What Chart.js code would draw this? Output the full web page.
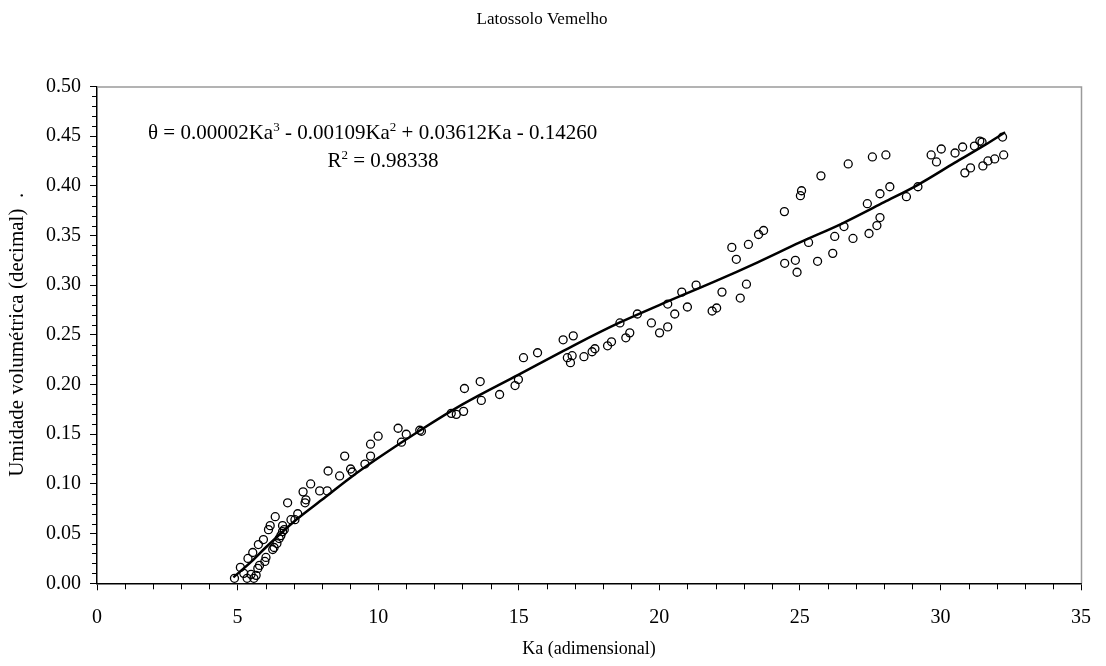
<!DOCTYPE html>
<html>
<head>
<meta charset="utf-8">
<script src="https://cdn.jsdelivr.net/npm/chart.js@4/dist/chart.umd.min.js"></script>
<style>
  body { margin: 0; background: #fff; }
  canvas { display: block; }
</style>
</head>
<body>
<canvas id="myChart" width="1106" height="666"></canvas>
<script>
// measured points (Ka, theta)
const kaValues = [
  4.89, 5.10, 5.22, 5.34, 5.48, 5.58, 5.66, 5.54, 5.37, 5.74, 5.92, 5.78, 5.72, 6.01, 5.97, 6.10, 6.16, 6.34, 6.30, 6.25,
  6.40, 6.48, 6.54, 6.60, 6.60, 6.66, 6.78, 6.90, 7.04, 7.14, 7.40, 7.43, 7.33, 7.60, 7.92, 8.19, 8.22, 8.63, 8.81, 9.02,
  9.08, 9.53, 9.73, 9.73, 10.00, 10.71, 10.83, 11.00, 11.48, 11.54, 12.60, 12.78, 13.04, 13.07, 13.63, 13.67, 14.32, 14.87, 14.99,
  15.17, 15.67, 16.58, 16.94, 16.73, 16.90, 16.84, 17.32, 17.61, 17.71, 18.16, 18.30, 18.60, 18.81, 18.95, 19.22, 19.72, 20.01,
  20.30, 20.30, 20.55, 20.80, 21.00, 21.31, 21.88, 22.04, 22.23, 22.58, 22.74, 22.88, 23.10, 23.17, 23.53, 23.71, 24.45, 24.46,
  24.84, 24.90, 25.02, 25.06, 25.31, 25.63, 26.17, 26.24, 26.57, 25.75, 26.72, 26.89, 27.40, 27.46, 27.58, 27.74, 27.85, 27.85,
  28.06, 28.20, 28.79, 29.20, 29.67, 29.86, 30.03, 30.52, 30.79, 30.87, 31.07, 31.21, 31.40, 31.48, 31.51, 31.69, 31.93, 32.25, 32.21
];
const thetaValues = [
  0.005, 0.016, 0.010, 0.005, 0.009, 0.005, 0.008, 0.031, 0.025, 0.039, 0.044, 0.018, 0.015, 0.026, 0.022, 0.054, 0.058, 0.067, 0.036, 0.034,
  0.040, 0.045, 0.048, 0.052, 0.058, 0.054, 0.081, 0.064, 0.064, 0.070, 0.081, 0.084, 0.092, 0.100, 0.093, 0.093, 0.113, 0.108, 0.128, 0.115,
  0.112, 0.120, 0.128, 0.140, 0.148, 0.156, 0.142, 0.150, 0.154, 0.153, 0.171, 0.170, 0.173, 0.196, 0.203, 0.184, 0.190, 0.199, 0.205,
  0.227, 0.232, 0.245, 0.249, 0.227, 0.229, 0.222, 0.228, 0.233, 0.236, 0.239, 0.243, 0.262, 0.247, 0.252, 0.271, 0.262, 0.252,
  0.258, 0.281, 0.271, 0.293, 0.278, 0.300, 0.274, 0.277, 0.293, 0.338, 0.326, 0.287, 0.301, 0.341, 0.351, 0.355, 0.374, 0.322,
  0.325, 0.313, 0.390, 0.395, 0.343, 0.324, 0.332, 0.349, 0.359, 0.410, 0.422, 0.347, 0.382, 0.352, 0.429, 0.360, 0.368, 0.392,
  0.431, 0.399, 0.389, 0.399, 0.431, 0.424, 0.437, 0.433, 0.439, 0.413, 0.418, 0.440, 0.445, 0.444, 0.420, 0.425, 0.427, 0.431, 0.449
];

// fitted curve
const curveKa    = [4.85, 5.5, 6, 7, 8, 9, 10, 11.5, 13, 15, 17, 18.6, 20, 22, 23.5, 25, 26.5, 28, 29.2, 30.5, 31.6, 32.3];
const curveTheta = [0.006, 0.022, 0.036, 0.062, 0.084, 0.106, 0.126, 0.154, 0.180, 0.210, 0.240, 0.2625, 0.280, 0.304, 0.323, 0.343, 0.362, 0.3835, 0.401, 0.423, 0.4414, 0.4538];

const chartTitle = 'Latossolo Vemelho';
const xTitle = 'Ka (adimensional)';
const yTitle = 'Umidade volumétrica (decimal)  .';
const eqParts = [['θ = 0.00002Ka', false], ['3', true], [' - 0.00109Ka', false], ['2', true], [' + 0.03612Ka - 0.14260', false]];
const r2Parts = [['R', false], ['2', true], [' = 0.98338', false]];

const serif = '"Liberation Serif", "Times New Roman", serif';

const points = kaValues.map((k, i) => ({ x: k, y: thetaValues[i] }));
const curve = curveKa.map((k, i) => ({ x: k, y: curveTheta[i] }));

function drawParts(ctx, parts, x, y, centered) {
  const big = '21px ' + serif, small = '13px ' + serif;
  let w = 0;
  parts.forEach(p => { ctx.font = p[1] ? small : big; w += ctx.measureText(p[0]).width; });
  let cx = centered ? x - w / 2 : x;
  parts.forEach(p => {
    ctx.font = p[1] ? small : big;
    ctx.fillText(p[0], cx, p[1] ? y - 8 : y);
    cx += ctx.measureText(p[0]).width;
  });
}

const extras = {
  id: 'extras',
  afterDraw(chart) {
    const ctx = chart.ctx;
    const a = chart.chartArea;
    const xs = chart.scales.x, ys = chart.scales.y;
    ctx.save();
    // grey top / right frame
    ctx.strokeStyle = '#9a9a9a';
    ctx.lineWidth = 1.5;
    ctx.beginPath();
    ctx.moveTo(a.left, a.top + 0.5);
    ctx.lineTo(a.right + 0.5, a.top + 0.5);
    ctx.lineTo(a.right + 0.5, a.bottom);
    ctx.stroke();
    // minor ticks
    ctx.strokeStyle = '#000';
    ctx.lineWidth = 1;
    ctx.beginPath();
    for (let v = 1; v < 35; v++) {
      if (v % 5 === 0) continue;
      const px = Math.round(xs.getPixelForValue(v)) + 0.5;
      ctx.moveTo(px, a.bottom);
      ctx.lineTo(px, a.bottom + 6);
    }
    for (let k = 1; k < 50; k++) {
      if (k % 5 === 0) continue;
      const py = Math.round(ys.getPixelForValue(k / 100)) + 0.5;
      ctx.moveTo(a.left - 5, py);
      ctx.lineTo(a.left, py);
    }
    ctx.stroke();
    // equation text
    ctx.fillStyle = '#000';
    ctx.textBaseline = 'alphabetic';
    ctx.textAlign = 'left';
    drawParts(ctx, eqParts, 148, 139, false);
    drawParts(ctx, r2Parts, 383, 167, true);
    ctx.restore();
  }
};

new Chart(document.getElementById('myChart').getContext('2d'), {
  type: 'scatter',
  data: {
    datasets: [
      {
        label: 'curve',
        data: curve,
        showLine: true,
        borderColor: '#000',
        borderWidth: 2.5,
        pointRadius: 0,
        cubicInterpolationMode: 'monotone',
        fill: false
      },
      {
        label: 'obs',
        data: points,
        pointRadius: 4,
        pointBorderWidth: 1.3,
        pointBorderColor: '#000',
        pointBackgroundColor: 'rgba(0,0,0,0)',
        showLine: false
      }
    ]
  },
  options: {
    responsive: false,
    animation: false,
    layout: { padding: { left: 0, right: 22, top: 0, bottom: 0 } },
    plugins: {
      legend: { display: false },
      tooltip: { enabled: false },
      title: {
        display: true,
        text: chartTitle,
        color: '#000',
        font: { family: serif, size: 17, weight: 'normal' },
        padding: { top: 9, bottom: 57 }
      }
    },
    scales: {
      x: {
        type: 'linear',
        min: 0, max: 35,
        afterFit: s => { s.height = 82.7; },
        border: { color: '#000', width: 1.5 },
        grid: { drawOnChartArea: false, tickLength: 7, tickColor: '#000' },
        ticks: { stepSize: 5, padding: 15, color: '#000', font: { family: serif, size: 20 } },
        title: { display: true, text: xTitle, color: '#000', font: { family: serif, size: 18 }, padding: { top: 4, bottom: 6 } }
      },
      y: {
        type: 'linear',
        min: 0, max: 0.5,
        afterFit: s => { s.width = 97; },
        border: { color: '#000', width: 1.5 },
        grid: { drawOnChartArea: false, tickLength: 7, tickColor: '#000' },
        ticks: { stepSize: 0.05, padding: 9, color: '#000', font: { family: serif, size: 20 }, callback: v => v.toFixed(2) },
        title: { display: true, text: yTitle, color: '#000', font: { family: serif, size: 21 }, padding: { top: 5, bottom: 4 } }
      }
    }
  },
  plugins: [extras]
});
</script>
</body>
</html>
